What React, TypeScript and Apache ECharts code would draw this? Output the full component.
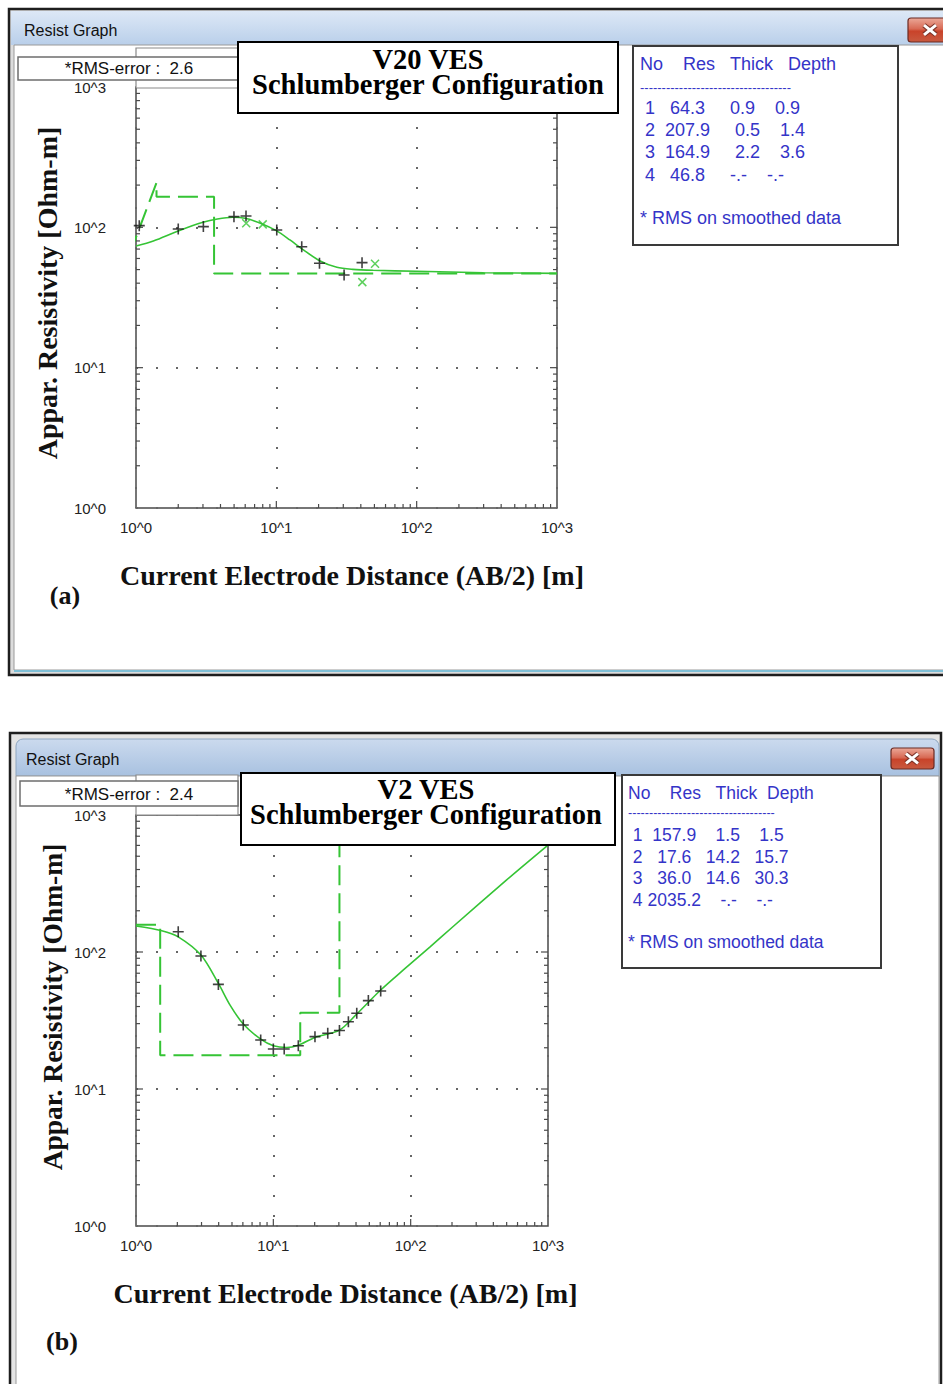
import React, { useEffect, useRef } from "react";
import * as echarts from "echarts";

// ---------- shared text / ticks ----------
const tickExponents = [0, 1, 2, 3];
const tickLabels = tickExponents.map((e) => "10^" + e);
const yTitle = "Appar. Resistivity [Ohm-m]";
const xTitle = "Current Electrode Distance (AB/2) [m]";
const windowTitle = "Resist Graph";
const tableHeader = ["No", "Res", "Thick", "Depth"];
const tableNote = "* RMS on smoothed data";
const tableDashes = "-----------------------------------";

// ---------- panel (a) : V20 ----------
const titleA = ["V20 VES", "Schlumberger Configuration"];
const rmsA = "*RMS-error :  2.6";
const labelA = "(a)";
const obsA_x = [1.055, 2.0, 3.02, 4.99, 6.08, 10.07, 15.17, 20.3, 30.4, 40.8];
const obsA_y = [102.8, 97.4, 101.2, 119.2, 120.5, 95.8, 72.8, 55.5, 45.8, 56];
const rejA_x = [6.1, 8.0, 41, 50.5];
const rejA_y = [106.8, 105, 40.7, 55];
const fitA_x = [1, 1.33, 2, 3, 3.8, 4.9, 6, 7.7, 10, 12.5, 15.6, 20.5, 27, 35, 49, 100, 300, 1000];
const fitA_y = [73.7, 80, 94.3, 108.7, 114.8, 118, 116, 107, 94.7, 81.3, 69, 57.6, 51.9, 50.2, 49.4, 48.6, 47.5, 47];
const modelA_x = [0.9, 1.4, 1.4, 3.6, 3.6, 1000];
const modelA_y = [64.3, 207.9, 164.9, 164.9, 46.8, 46.8];
const tabA_no = ["1", "2", "3", "4"];
const tabA_res = ["64.3", "207.9", "164.9", "46.8"];
const tabA_thick = ["0.9", "0.5", "2.2", "-.-"];
const tabA_depth = ["0.9", "1.4", "3.6", "-.-"];

// ---------- panel (b) : V2 ----------
const titleB = ["V2 VES", "Schlumberger Configuration"];
const rmsB = "*RMS-error :  2.4";
const labelB = "(b)";
const obsB_x = [2.03, 2.97, 3.98, 6.04, 8.09, 10.0, 12.0, 15.2, 20.1, 24.9, 30.3, 35.2, 40.5, 49.2, 60.5];
const obsB_y = [140.6, 93.5, 58, 29.3, 22.8, 19.6, 19.6, 20.7, 24.1, 25.5, 26.7, 31, 35.7, 44.2, 51.9];
const fitB_x = [1, 1.54, 2.03, 2.97, 3.98, 4.84, 6.04, 8.09, 10, 12.5, 15.2, 20.1, 30.3, 40.5, 60.5, 88.5, 138.5, 200, 500, 1000];
const fitB_y = [155, 143, 129, 95, 59, 41, 29.8, 23.1, 20.7, 20.1, 20.9, 23.8, 26.9, 35.3, 52.8, 74, 109, 151, 336, 603];
const modelB_x = [1, 1.5, 1.5, 15.7, 15.7, 30.3, 30.3];
const modelB_y = [157.9, 157.9, 17.6, 17.6, 36.0, 36.0, 2035.2];
const tabB_no = ["1", "2", "3", "4"];
const tabB_res = ["157.9", "17.6", "36.0", "2035.2"];
const tabB_thick = ["1.5", "14.2", "14.6", "-.-"];
const tabB_depth = ["1.5", "15.7", "30.3", "-.-"];

const SANS = '"Liberation Sans", Arial, sans-serif';
const SERIF = '"Liberation Serif", "Times New Roman", serif';
const GREEN = "#35c435";
const BLUE = "#3434c8";

const zip = (a: number[], b: number[]) => a.map((v, i) => [v, b[i]]);

let measureCtx: CanvasRenderingContext2D | null = null;
function measure(s: string, fs: number) {
  if (!measureCtx) measureCtx = document.createElement("canvas").getContext("2d");
  if (!measureCtx) return s.length * fs * 0.5;
  measureCtx.font = `${fs}px "Liberation Sans"`;
  return measureCtx.measureText(s).width;
}

function txt(x: number, y: number, text: string, o: any = {}) {
  const align = o.align || "left";
  const style: any = {
    text,
    fontSize: o.fs || 16,
    fontFamily: o.family || SANS,
    fontWeight: o.weight || "normal",
    fill: o.fill || "#111",
    align,
    verticalAlign: "middle",
    textAlign: align,
    textVerticalAlign: "middle",
  };
  if (o.lineHeight) style.lineHeight = o.lineHeight;
  return { type: "text", x, y, z: o.z ?? 60, rotation: o.rotation || 0, silent: true, style };
}

function rect(x: number, y: number, w: number, h: number, style: any, z = 60, r: any = 0) {
  return { type: "rect", z, silent: true, shape: { x, y, width: w, height: h, r }, style };
}

function line(x1: number, y1: number, x2: number, y2: number, stroke: string, lw: number, z = 60) {
  return { type: "line", z, silent: true, shape: { x1, y1, x2, y2 }, style: { stroke, lineWidth: lw } };
}

function tableEls(o: any) {
  const els: any[] = [];
  els.push(rect(o.left, o.top, o.width, o.height, { fill: "#fff", stroke: "#3a3a3a", lineWidth: 2 }, 55));
  let s = "";
  tableHeader.forEach((h, j) => {
    s += " ".repeat(o.headerGaps[j]);
    els.push(txt(o.textX + measure(s, o.fs), o.headerY, h, { fs: o.fs, fill: BLUE }));
    s += h;
  });
  els.push(txt(o.textX, o.dashY, tableDashes, { fs: o.fs * 0.72, fill: BLUE }));
  for (let i = 0; i < o.no.length; i++) {
    const cells = [o.no[i], o.res[i], o.thick[i], o.depth[i]];
    let r = "";
    cells.forEach((c: string, j: number) => {
      r += " ".repeat(Math.max(0, o.fields[j] - c.length));
      els.push(txt(o.textX + measure(r, o.fs), o.rowY0 + i * o.rowStep, c, { fs: o.fs, fill: BLUE }));
      r += c;
    });
  }
  els.push(txt(o.textX, o.noteY, tableNote, { fs: o.fs, fill: BLUE }));
  return els;
}

function closeButton(x: number, y: number, w: number, h: number, cx: number, cy: number, hs: number) {
  const grad = new echarts.graphic.LinearGradient(0, 0, 0, 1, [
    { offset: 0, color: "#eba898" },
    { offset: 0.45, color: "#d86a55" },
    { offset: 0.55, color: "#c9432a" },
    { offset: 1, color: "#c85a40" },
  ]);
  return [
    rect(x, y, w, h, { fill: grad, stroke: "#6b2a22", lineWidth: 1.2 }, 20, 3),
    line(cx - hs, cy - hs * 0.8, cx + hs, cy + hs * 0.8, "#7a3328", 5, 21),
    line(cx - hs, cy + hs * 0.8, cx + hs, cy - hs * 0.8, "#7a3328", 5, 21),
    line(cx - hs, cy - hs * 0.8, cx + hs, cy + hs * 0.8, "#ffffff", 3, 22),
    line(cx - hs, cy + hs * 0.8, cx + hs, cy - hs * 0.8, "#ffffff", 3, 22),
  ];
}

function tickSeries(gi: number) {
  const data: number[][] = [];
  for (let k = 0; k < 3; k++) {
    for (let m = 1; m <= 9; m++) {
      const v = m * Math.pow(10, k);
      if (v === 1) continue;
      data.push([v, v, m === 1 ? 7 : 4]);
    }
  }
  return {
    type: "custom",
    xAxisIndex: gi,
    yAxisIndex: gi,
    clip: false,
    silent: true,
    z: 3,
    data,
    renderItem: (params: any, api: any) => {
      const cs = params.coordSys;
      const v = api.value(0);
      const len = api.value(2);
      const px = api.coord([v, 1])[0];
      const py = api.coord([1, v])[1];
      const bottom = cs.y + cs.height;
      const left = cs.x;
      const right = cs.x + cs.width;
      const st = { stroke: "#4a4a4a", lineWidth: 1.2 };
      return {
        type: "group",
        children: [
          { type: "line", shape: { x1: px, y1: bottom, x2: px, y2: bottom - len }, style: st },
          { type: "line", shape: { x1: left, y1: py, x2: left + len, y2: py }, style: st },
          { type: "line", shape: { x1: right, y1: py, x2: right - len, y2: py }, style: st },
        ],
      };
    },
  };
}

const PLUS = "path://M0,5L10,5M5,0L5,10";
const CROSS = "path://M0,0L10,10M10,0L0,10";

function panelSeries(gi: number, mx: number[], my: number[], fx: number[], fy: number[], ox: number[], oy: number[], rx?: number[], ry?: number[]) {
  const s: any[] = [
    {
      type: "line",
      xAxisIndex: gi,
      yAxisIndex: gi,
      data: zip(mx, my),
      symbol: "none",
      lineStyle: { color: GREEN, width: 2, type: [20, 8] },
      z: 2,
    },
    {
      type: "line",
      xAxisIndex: gi,
      yAxisIndex: gi,
      data: zip(fx, fy),
      symbol: "none",
      smooth: 0.3,
      lineStyle: { color: GREEN, width: 1.6 },
      z: 2,
    },
    {
      type: "scatter",
      xAxisIndex: gi,
      yAxisIndex: gi,
      data: zip(ox, oy),
      symbol: PLUS,
      symbolSize: 11,
      symbolKeepAspect: true,
      itemStyle: { color: "transparent", borderColor: "#111", borderWidth: 1.6 },
      z: 4,
    },
    tickSeries(gi),
  ];
  if (rx && ry) {
    s.push({
      type: "scatter",
      xAxisIndex: gi,
      yAxisIndex: gi,
      data: zip(rx, ry),
      symbol: CROSS,
      symbolSize: 8,
      symbolKeepAspect: true,
      itemStyle: { color: "transparent", borderColor: GREEN, borderWidth: 1.5 },
      z: 4,
    });
  }
  return s;
}

function axisCommon(gi: number, isX: boolean) {
  return {
    type: "log",
    logBase: 10,
    gridIndex: gi,
    min: 1,
    max: 1000,
    axisLine: { show: false },
    axisTick: { show: false },
    minorTick: { show: false },
    splitLine: { show: true, lineStyle: { color: "#666", width: 2, type: [2, 18] } },
    axisLabel: {
      formatter: (v: number) => tickLabels[Math.round(Math.log10(v))],
      margin: isX ? 12 : 30,
      fontSize: 15,
      color: "#222",
      fontFamily: SANS,
      showMinLabel: true,
      showMaxLabel: true,
    },
  };
}

function buildGraphics() {
  const els: any[] = [];
  const barGradA = new echarts.graphic.LinearGradient(0, 0, 0, 1, [
    { offset: 0, color: "#dde8f6" },
    { offset: 1, color: "#b9cfea" },
  ]);
  const barGradB = new echarts.graphic.LinearGradient(0, 0, 0, 1, [
    { offset: 0, color: "#cbdaee" },
    { offset: 1, color: "#a8c1e0" },
  ]);
  // ---- window (a)
  els.push(rect(9, 9, 1000, 666, { fill: "#dcdcdc", stroke: "#1e1e1e", lineWidth: 2.5 }, -10));
  els.push(rect(11, 11, 1000, 34, { fill: barGradA }, -9));
  els.push(rect(14, 45, 1000, 625, { fill: "#ffffff", stroke: "#9a9a9a", lineWidth: 1 }, -9));
  els.push(line(14, 671, 943, 671, "#7fbfd6", 2, -8));
  els.push(txt(24, 30, windowTitle, { fs: 16, fill: "#111", z: 20 }));
  els.push(...closeButton(908, 18, 45, 24, 930, 30, 6));
  // ---- window (b)
  els.push(rect(10, 733, 931, 700, { fill: "#e4e4e4", stroke: "#1e1e1e", lineWidth: 2.5 }, -10));
  els.push(rect(16, 739, 923, 37, { fill: barGradB, stroke: "#8ea6c0", lineWidth: 1 }, -9, [7, 7, 0, 0]));
  els.push(rect(16, 776, 923, 640, { fill: "#ffffff", stroke: "#9a9a9a", lineWidth: 1 }, -9));
  els.push(txt(26, 759, windowTitle, { fs: 16, fill: "#111", z: 20 }));
  els.push(...closeButton(891, 748, 43, 21, 912, 758.5, 6));

  // ---- panel (a) overlays
  els.push(rect(136, 48, 102, 40, { fill: "#fff", stroke: "#8a8a8a", lineWidth: 1.2 }, 40));
  els.push(rect(18, 57, 220, 23, { fill: "#fff", stroke: "#6e6e6e", lineWidth: 1.5 }, 45));
  els.push(txt(129, 68.5, rmsA, { fs: 17, align: "center", fill: "#111", z: 46 }));
  els.push(rect(238, 42, 380, 71, { fill: "#fff", stroke: "#000", lineWidth: 2 }, 50));
  els.push(txt(428, 71.5, titleA.join("\n"), { fs: 28.5, lineHeight: 25, family: SERIF, weight: "bold", align: "center", fill: "#000", z: 51 }));
  els.push(
    ...tableEls({
      left: 633, top: 46, width: 265, height: 199, textX: 640, fs: 18,
      headerY: 64, dashY: 87, rowY0: 108, rowStep: 22.2, noteY: 218,
      headerGaps: [0, 4, 3, 3], fields: [2, 7, 8, 7],
      no: tabA_no, res: tabA_res, thick: tabA_thick, depth: tabA_depth,
    })
  );
  els.push(txt(47, 293, yTitle, { fs: 28, family: SERIF, weight: "bold", align: "center", fill: "#111", rotation: Math.PI / 2, z: 30 }));
  els.push(txt(352, 575, xTitle, { fs: 28, family: SERIF, weight: "bold", align: "center", fill: "#111", z: 30 }));
  els.push(txt(65, 595, labelA, { fs: 26, family: SERIF, weight: "bold", align: "center", fill: "#111", z: 30 }));

  // ---- panel (b) overlays
  els.push(rect(136, 775, 102, 40, { fill: "#fff", stroke: "#8a8a8a", lineWidth: 1.2 }, 40));
  els.push(rect(20, 781, 218, 25, { fill: "#fff", stroke: "#6e6e6e", lineWidth: 1.5 }, 45));
  els.push(txt(129, 794, rmsB, { fs: 17, align: "center", fill: "#111", z: 46 }));
  els.push(rect(241, 773, 374, 72, { fill: "#fff", stroke: "#000", lineWidth: 2 }, 50));
  els.push(txt(426, 801.5, titleB.join("\n"), { fs: 28.5, lineHeight: 25, family: SERIF, weight: "bold", align: "center", fill: "#000", z: 51 }));
  els.push(
    ...tableEls({
      left: 622, top: 775, width: 259, height: 193, textX: 628, fs: 17.5,
      headerY: 792.5, dashY: 813, rowY0: 835, rowStep: 21.5, noteY: 941.5,
      headerGaps: [0, 4, 3, 2], fields: [2, 7, 7, 7],
      no: tabB_no, res: tabB_res, thick: tabB_thick, depth: tabB_depth,
    })
  );
  els.push(txt(52, 1007, yTitle, { fs: 27.5, family: SERIF, weight: "bold", align: "center", fill: "#111", rotation: Math.PI / 2, z: 30 }));
  els.push(txt(345.5, 1293, xTitle, { fs: 28, family: SERIF, weight: "bold", align: "center", fill: "#111", z: 30 }));
  els.push(txt(62, 1341, labelB, { fs: 26, family: SERIF, weight: "bold", align: "center", fill: "#111", z: 30 }));
  return els;
}

export default function App() {
  const ref = useRef<HTMLDivElement>(null);
  useEffect(() => {
    document.body.style.margin = "0";
    if (!ref.current) return;
    const chart = echarts.init(ref.current, undefined, { renderer: "svg" });
    const option: any = {
      animation: false,
      backgroundColor: "#ffffff",
      grid: [
        { left: 136, top: 87, width: 421, height: 421, show: true, borderColor: "#4a4a4a", borderWidth: 1.5, backgroundColor: "transparent" },
        { left: 136, top: 815, width: 412, height: 411, show: true, borderColor: "#4a4a4a", borderWidth: 1.5, backgroundColor: "transparent" },
      ],
      xAxis: [axisCommon(0, true), axisCommon(1, true)],
      yAxis: [axisCommon(0, false), axisCommon(1, false)],
      series: [
        ...panelSeries(0, modelA_x, modelA_y, fitA_x, fitA_y, obsA_x, obsA_y, rejA_x, rejA_y),
        ...panelSeries(1, modelB_x, modelB_y, fitB_x, fitB_y, obsB_x, obsB_y),
      ],
      graphic: { elements: buildGraphics() },
    };
    chart.setOption(option);
    return () => chart.dispose();
  }, []);
  return <div ref={ref} style={{ position: "absolute", left: 0, top: 0, width: 943, height: 1384 }} />;
}
